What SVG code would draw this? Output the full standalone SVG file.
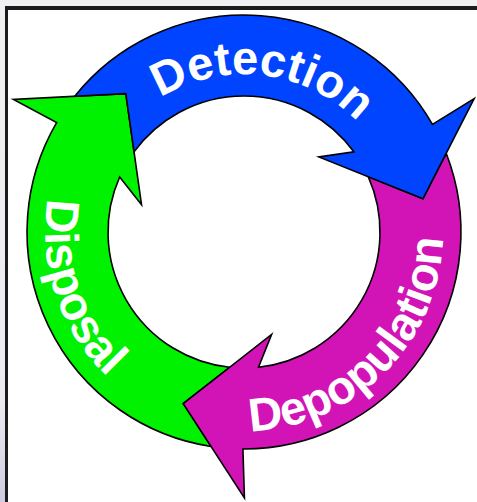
<svg xmlns="http://www.w3.org/2000/svg" width="477" height="502" viewBox="0 0 477 502">
  <style>
    .arrow { stroke: #000; stroke-width: 1.6; stroke-linejoin: miter; }
    .blue { fill: #0044ff; }
    .magenta { fill: #d213b6; }
    .green { fill: #00f200; }
    .label { fill: #fff; font-family: "Liberation Sans", Arial, sans-serif; font-weight: bold; font-size: 47px; }
  </style>
  <defs>
    <path id="arrowShape" d="M -141.7 -164.3 L -91 -157.6 L -93.5 -98.8 A 136 136 0 0 1 122.6 -58.8 L 87.3 -60.2 L 182 0 L 250.6 -89.2 L 204.9 -71.4 A 217 217 0 0 0 -141.7 -164.3 Z"/>
    <path id="pathDetection" d="M 103.2 160.3 A 158 158 0 0 1 397.9 196.5"/>
    <path id="pathDisposal" d="M 120.1 76.3 A 199 199 0 0 0 238.8 430.9"/>
    <path id="pathDepopulation" d="M 159.9 412.4 A 199 199 0 0 0 424.4 147.9"/>
    <linearGradient id="edgeGrad" x1="0" y1="0" x2="0" y2="1">
      <stop offset="0" stop-color="#f1f1f3"/>
      <stop offset="0.8" stop-color="#ecebf0"/>
      <stop offset="1" stop-color="#cfcbe0"/>
    </linearGradient>
  </defs>

  <g id="frame">
    <rect x="0" y="0" width="477" height="502" fill="url(#edgeGrad)"/>
    <rect x="5" y="6" width="472" height="496" fill="#1c1c1c"/>
    <rect x="8" y="10" width="469" height="492" fill="#fff"/>
  </g>

  <g id="connectors">
    <g id="disposal">
      <use href="#arrowShape" class="arrow green" transform="translate(244 232) rotate(229.5)"/>
      <text class="label"><textPath href="#pathDisposal" startOffset="50%" text-anchor="middle">Disposal</textPath></text>
    </g>
    <g id="depopulation">
      <use href="#arrowShape" class="arrow magenta" transform="translate(244 232) rotate(109.5)"/>
      <text class="label"><textPath href="#pathDepopulation" startOffset="50%" text-anchor="middle">Depopulation</textPath></text>
    </g>
    <g id="detection">
      <use href="#arrowShape" class="arrow blue" transform="translate(244 232) rotate(-10.5)"/>
      <text class="label"><textPath href="#pathDetection" startOffset="50%" text-anchor="middle">Detection</textPath></text>
    </g>
  </g>
</svg>
